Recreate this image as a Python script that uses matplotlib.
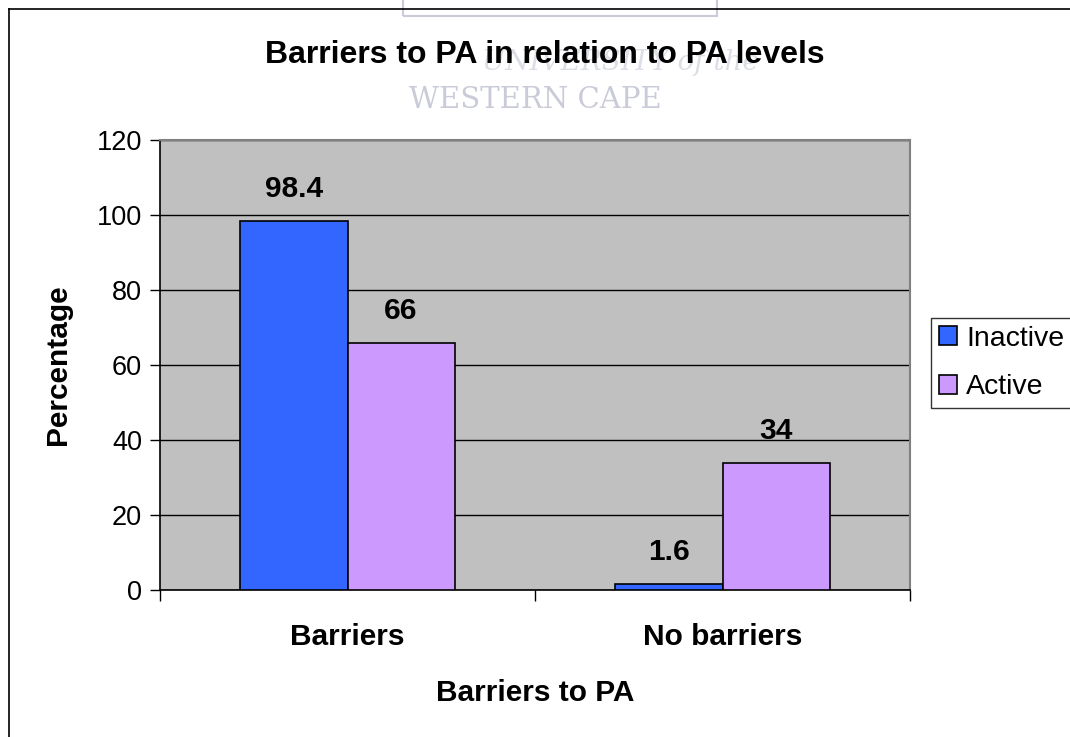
import numpy as np
import matplotlib.pyplot as plt
from matplotlib.lines import Line2D
from matplotlib.patches import Rectangle

plt.rcParams['font.family'] = ['Liberation Sans', 'DejaVu Sans']

categories = ['Barriers', 'No barriers']
inactive = [98.4, 1.6]
active = [66, 34]
series_names = ['Inactive', 'Active']
yticks = [0, 20, 40, 60, 80, 100, 120]

fig = plt.figure(figsize=(10.7, 7.37), dpi=100)
ax = fig.add_axes([160 / 1070, 147 / 737, 750 / 1070, 450 / 737])
ax.set_facecolor('#C0C0C0')

x = np.arange(len(categories))
w = 1 / 3.5
b1 = ax.bar(x - w / 2, inactive, width=w, color='#3366FF', edgecolor='black',
            linewidth=1.2, label=series_names[0], zorder=3)
b2 = ax.bar(x + w / 2, active, width=w, color='#CC99FF', edgecolor='black',
            linewidth=1.2, label=series_names[1], zorder=3)
for bars, vals in ((b1, inactive), (b2, active)):
    for r, v in zip(bars, vals):
        ax.annotate(f'{v:g}', (r.get_x() + r.get_width() / 2, v),
                    xytext=(0, 23), textcoords='offset points',
                    ha='center', va='center', fontsize=21.5, fontweight='bold')

ax.set_xlim(-0.5, 1.5)
ax.set_ylim(0, 120)
ax.set_yticks(yticks)
ax.yaxis.grid(True, color='black', linewidth=1)
ax.set_axisbelow(True)
ax.tick_params(axis='y', labelsize=19.5, length=7, width=1, pad=6)
ax.set_xticks(x)
ax.set_xticklabels(categories, fontsize=21.5, fontweight='bold')
ax.set_xticks([-0.5, 0.5, 1.5], minor=True)
ax.tick_params(axis='x', which='major', length=0, pad=24)
ax.tick_params(axis='x', which='minor', length=8, width=1)

for s in ('left', 'bottom'):
    ax.spines[s].set_color('black')
    ax.spines[s].set_linewidth(1.2)
for s in ('top', 'right'):
    ax.spines[s].set_color('#808080')
    ax.spines[s].set_linewidth(1.5)

ax.set_ylabel('Percentage', fontsize=21.5, fontweight='bold', labelpad=18)
ax.set_xlabel('Barriers to PA', fontsize=21.5, fontweight='bold', labelpad=20)

leg = fig.legend(handles=[b1, b2], loc='upper left',
                 bbox_to_anchor=(931 / 1070, 1 - 318 / 737),
                 fontsize=20.5, frameon=True, fancybox=False,
                 handlelength=0.65, handleheight=0.65, handletextpad=0.3,
                 borderpad=0.28, labelspacing=0.78, borderaxespad=0)
leg.get_frame().set_edgecolor('black')
leg.get_frame().set_linewidth(1)

# watermark
fig.text(535 / 1070, 1 - 100 / 737, 'WESTERN CAPE', fontsize=21,
         family='DejaVu Serif', color='#C9CCD8', ha='center', va='center')
fig.text(620 / 1070, 1 - 62 / 737, 'UNIVERSITY of the', fontsize=20,
         family='DejaVu Serif', style='italic', color='#DCDEE6',
         ha='center', va='center')
fig.add_artist(Rectangle((403 / 1070, 1 - 16 / 737), 314 / 1070, 20 / 737,
                         fill=False, edgecolor='#C9CCD8', linewidth=1.5,
                         transform=fig.transFigure))

fig.text(545 / 1070, 1 - 55 / 737, 'Barriers to PA in relation to PA levels',
         fontsize=23, fontweight='bold', ha='center', va='center')

# outer chart border
fig.add_artist(Line2D([9 / 1070, 9 / 1070], [0, 1 - 9 / 737], color='black',
                      linewidth=1.2, transform=fig.transFigure))
fig.add_artist(Line2D([9 / 1070, 1], [1 - 9 / 737, 1 - 9 / 737], color='black',
                      linewidth=1.2, transform=fig.transFigure))

fig.savefig('out.png', dpi=100)
